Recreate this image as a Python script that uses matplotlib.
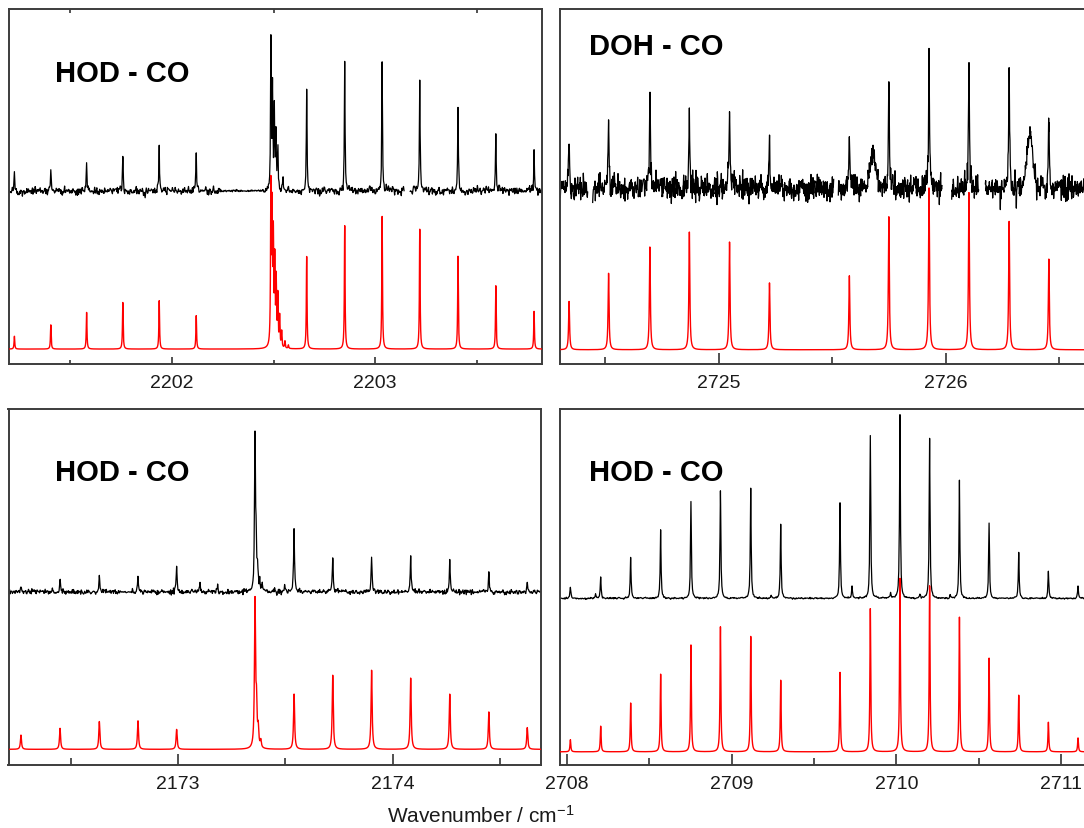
import numpy as np
import matplotlib
matplotlib.use("Agg")
import matplotlib.pyplot as plt
from matplotlib.ticker import MultipleLocator

plt.rcParams['font.family'] = ['Liberation Sans', 'DejaVu Sans']
plt.rcParams['mathtext.fontset'] = 'custom'
plt.rcParams['mathtext.rm'] = 'Liberation Sans'
plt.rcParams['mathtext.it'] = 'Liberation Sans:italic'

# ---------------- line lists: wavenumber (cm^-1) and relative intensity ----------------
# HOD-CO, 2202 cm^-1 band
tl_obs_pos = [2201.226, 2201.405, 2201.581, 2201.759, 2201.938, 2202.120,
              2202.487, 2202.495, 2202.504, 2202.512, 2202.521, 2202.547,
              2202.663, 2202.850, 2203.034, 2203.219, 2203.407, 2203.593, 2203.781]
tl_obs_int = [5.2, 6.1, 8.4, 10.3, 12.6, 10.8,
              42.0, 28.0, 23.0, 16.0, 13.0, 4.2,
              29.3, 35.4, 36.3, 31.8, 23.5, 16.2, 11.1]
tl_sim_pos = [2201.226, 2201.405, 2201.581, 2201.759, 2201.938, 2202.120,
              2202.487, 2202.493, 2202.499, 2202.506, 2202.513, 2202.521, 2202.530,
              2202.540, 2202.556, 2202.573,
              2202.663, 2202.850, 2203.034, 2203.219, 2203.407, 2203.593, 2203.781]
tl_sim_int = [3.6, 6.8, 10.3, 13.1, 13.6, 9.4,
              44.0, 36.0, 29.0, 23.0, 18.0, 14.0, 8.5,
              4.5, 2.0, 1.0,
              26.0, 34.7, 37.3, 33.7, 26.1, 17.8, 10.6]
tl_gaps = [(2203.142, 2203.171)]
tl_quiet = [(2202.248, 2202.453)]

# DOH-CO, 2725 cm^-1 band
tr_obs_pos = [2724.341, 2724.515, 2724.697, 2724.871, 2725.048, 2725.224,
              2725.576, 2725.750, 2725.927, 2726.103, 2726.280, 2726.455]
tr_obs_int = [13.0, 20.0, 28.0, 21.5, 23.0, 14.5, 13.0, 30.0, 36.0, 34.0, 32.0, 18.0]
tr_band_pos = [2725.682, 2726.371]
tr_band_int = [9.0, 16.0]
tr_sim_pos = tr_obs_pos
tr_sim_int = [13.6, 21.5, 28.9, 33.1, 30.3, 18.8, 20.8, 37.4, 45.5, 44.2, 36.1, 25.5]
tr_gaps = [(2724.424, 2724.444), (2725.508, 2725.526), (2725.985, 2726.026), (2726.147, 2726.174)]
tr_quiet = []

# HOD-CO, 2173 cm^-1 band
bl_obs_pos = [2172.268, 2172.450, 2172.633, 2172.813, 2172.993, 2173.102, 2173.184,
              2173.358, 2173.363, 2173.370, 2173.380, 2173.392,
              2173.496, 2173.540, 2173.720, 2173.901, 2174.083, 2174.265, 2174.447, 2174.626]
bl_obs_int = [1.7, 3.4, 4.7, 4.7, 7.1, 2.8, 2.1,
              43.0, 12.0, 6.0, 3.0, 1.5,
              1.7, 18.0, 9.4, 9.8, 10.1, 8.9, 5.4, 2.8]
bl_sim_pos = [2172.268, 2172.450, 2172.633, 2172.813, 2172.993,
              2173.358, 2173.365, 2173.373, 2173.385,
              2173.540, 2173.720, 2173.901, 2174.083, 2174.265, 2174.447, 2174.626]
bl_sim_int = [4.0, 5.9, 7.8, 8.0, 5.6,
              41.0, 11.0, 5.0, 2.0,
              15.5, 20.8, 22.2, 20.0, 15.5, 10.5, 6.1]
bl_gaps = []
bl_quiet = [(2172.732, 2172.780)]

# HOD-CO, 2710 cm^-1 band
br_obs_pos = [2708.021, 2708.174, 2708.205, 2708.387, 2708.569, 2708.753, 2708.932,
              2709.116, 2709.240, 2709.298, 2709.658, 2709.731, 2709.842, 2709.965,
              2710.022, 2710.143, 2710.202, 2710.327, 2710.383, 2710.563, 2710.743,
              2710.923, 2711.103]
br_obs_int = [3.1, 1.2, 5.9, 11.5, 19.2, 27.4, 30.4,
              31.0, 0.7, 20.9, 26.8, 3.3, 45.9, 1.5,
              51.4, 1.2, 45.1, 0.9, 33.3, 21.2, 12.9,
              7.5, 3.4]
br_sim_pos = [2708.021, 2708.205, 2708.387, 2708.569, 2708.753, 2708.932, 2709.116,
              2709.298, 2709.658, 2709.842, 2710.022, 2710.202, 2710.383, 2710.563,
              2710.743, 2710.923, 2711.103]
br_sim_int = [3.4, 7.2, 13.7, 21.8, 30.0, 35.1, 32.4,
              20.1, 22.3, 40.2, 48.7, 46.6, 37.8, 26.3,
              15.9, 8.3, 3.9]
br_gaps = []
br_quiet = []

label_tl, label_tr, label_bl, label_br = "HOD - CO", "DOH - CO", "HOD - CO", "HOD - CO"
xlabel_text = "Wavenumber / cm$^{-1}$"


def lorentz_sum(x, pos, amp, fwhm):
    hw = fwhm / 2.0
    y = np.zeros_like(x)
    for p, a in zip(pos, amp):
        y += a / (1.0 + ((x - p) / hw) ** 2)
    return y


def gauss_sum(x, pos, amp, fwhm):
    s = fwhm / 2.3548
    y = np.zeros_like(x)
    for p, a in zip(pos, amp):
        y += a * np.exp(-0.5 * ((x - p) / s) ** 2)
    return y


rng = np.random.default_rng(7)


def observed_trace(xlim, pos, amp, fwhm, noise, gaps, quiet, ppu, density, bands=None):
    step = 1.0 / (density * ppu)
    x = np.union1d(np.arange(xlim[0], xlim[1], step), np.array(pos))
    y = lorentz_sum(x, pos, amp, fwhm)
    if bands is not None:
        y += gauss_sum(x, bands[0], bands[1], 0.03)
    n = noise * rng.standard_normal(x.size)
    for q0, q1 in quiet:
        n[(x > q0) & (x < q1)] *= 0.25
    y = y + n
    for g0, g1 in gaps:
        y[(x > g0) & (x < g1)] = np.nan
    return x, y


def simulated_trace(xlim, pos, amp, fwhm):
    x = np.union1d(np.arange(xlim[0], xlim[1], 0.0002), np.array(pos))
    return x, lorentz_sum(x, pos, amp, fwhm)


W, H = 1084, 829
fig = plt.figure(figsize=(W / 100, H / 100), dpi=100)


def px_axes(left, top, right, bottom):
    return fig.add_axes([left / W, 1 - bottom / H, (right - left) / W, (bottom - top) / H])


panels = [
    dict(rect=(8.5, 9.5, 542, 365), xlim=(2201.197, 2203.82),
         obs=(tl_obs_pos, tl_obs_int), sim=(tl_sim_pos, tl_sim_int),
         gaps=tl_gaps, quiet=tl_quiet, noise=0.6, density=1.8,
         ofs_obs=48.7, ofs_sim=4.2, fw_obs=0.004, fw_sim=0.004,
         label=label_tl, lab_xy=(0.087, 0.796), ticklen=(7, 4), toptick=True, bands=None),
    dict(rect=(560, 9.5, 1094, 365), xlim=(2724.301, 2726.654),
         obs=(tr_obs_pos, tr_obs_int), sim=(tr_sim_pos, tr_sim_int),
         gaps=tr_gaps, quiet=tr_quiet, noise=1.7, density=3.0,
         ofs_obs=49.5, ofs_sim=4.0, fw_obs=0.005, fw_sim=0.005,
         label=label_tr, lab_xy=(0.054, 0.872), ticklen=(11, 7), toptick=False,
         bands=(tr_band_pos, tr_band_int)),
    dict(rect=(8.5, 410, 541, 766), xlim=(2172.21, 2174.69),
         obs=(bl_obs_pos, bl_obs_int), sim=(bl_sim_pos, bl_sim_int),
         gaps=bl_gaps, quiet=bl_quiet, noise=0.35, density=1.8,
         ofs_obs=48.6, ofs_sim=4.4, fw_obs=0.005, fw_sim=0.006,
         label=label_bl, lab_xy=(0.087, 0.80), ticklen=(11, 7), toptick=False, bands=None),
    dict(rect=(560, 410, 1094, 766), xlim=(2707.958, 2711.20),
         obs=(br_obs_pos, br_obs_int), sim=(br_sim_pos, br_sim_int),
         gaps=br_gaps, quiet=br_quiet, noise=0.12, density=1.6,
         ofs_obs=46.8, ofs_sim=3.7, fw_obs=0.006, fw_sim=0.006,
         label=label_br, lab_xy=(0.054, 0.80), ticklen=(11, 7), toptick=False, bands=None),
]

for p in panels:
    ax = px_axes(*p["rect"])
    lo, hi = p["xlim"]
    ppu = (p["rect"][2] - p["rect"][0]) / (hi - lo)

    xs, ys = simulated_trace(p["xlim"], *p["sim"], p["fw_sim"])
    xo, yo = observed_trace(p["xlim"], *p["obs"], p["fw_obs"], p["noise"], p["gaps"],
                            p["quiet"], ppu, p["density"], bands=p["bands"])

    ax.plot(xo, yo + p["ofs_obs"], color="black", lw=0.9, zorder=2)
    ax.plot(xs, ys + p["ofs_sim"], color="#ff0000", lw=1.0, zorder=3)

    ax.set_xlim(lo, hi)
    ax.set_ylim(0, 100)
    ax.set_yticks([])
    ax.xaxis.set_major_locator(MultipleLocator(1))
    ax.xaxis.set_minor_locator(MultipleLocator(0.5))
    ax.xaxis.set_major_formatter(plt.FormatStrFormatter("%d"))
    ax.tick_params(axis="x", which="major", direction="in", length=p["ticklen"][0] * 0.72,
                   width=1.2, color="#333333", labelsize=14, labelcolor="#1a1a1a", pad=7)
    ax.tick_params(axis="x", which="minor", direction="in", length=p["ticklen"][1] * 0.72,
                   width=1.2, color="#333333")
    if p["toptick"]:
        ax.tick_params(axis="x", which="minor", top=True)
    for s in ax.spines.values():
        s.set_color("#3c3c3c")
        s.set_linewidth(1.4)

    ax.text(p["lab_xy"][0], p["lab_xy"][1], p["label"], transform=ax.transAxes,
            fontsize=21, fontweight="bold", ha="left", va="baseline", color="black")

fig.text(481 / W, 1 - 823 / H, xlabel_text, ha="center", va="baseline",
         fontsize=15, color="#1a1a1a")

fig.savefig("out.png", dpi=100)
